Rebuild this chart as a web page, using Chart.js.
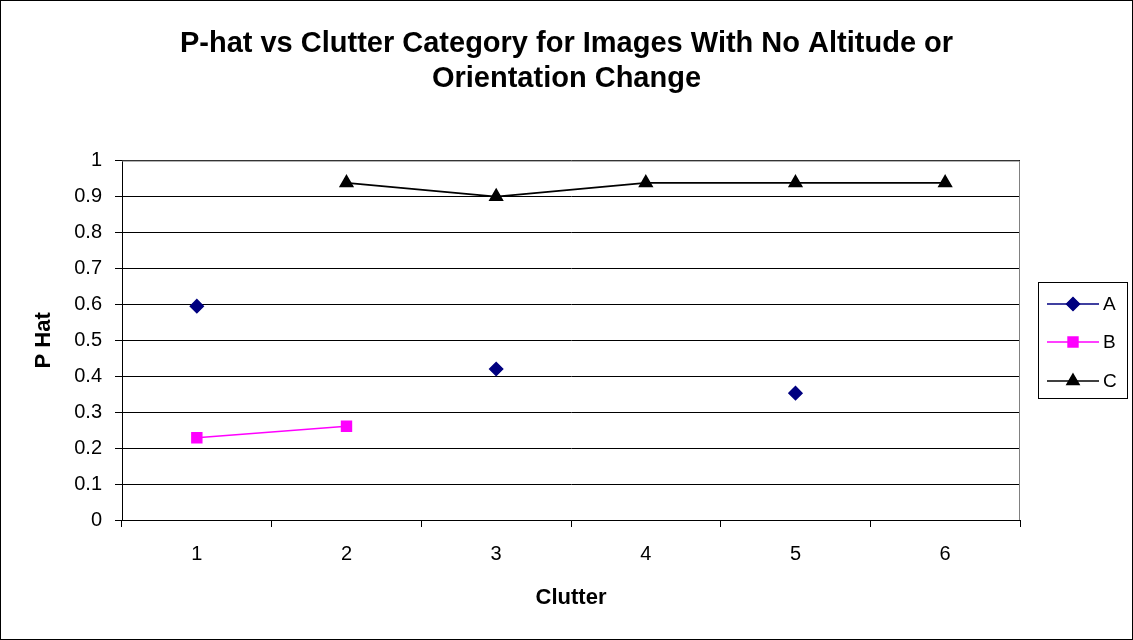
<!DOCTYPE html>
<html>
<head>
<meta charset="utf-8">
<script src="https://cdn.jsdelivr.net/npm/chart.js@4.4.1/dist/chart.umd.min.js"></script>
<style>
  html, body { margin: 0; padding: 0; background: #fff; }
  #wrap { width: 1133px; height: 640px; position: relative; }
</style>
</head>
<body>
<div id="wrap"><canvas id="chart" width="1133" height="640"></canvas></div>
<script>
const clutter = ['1', '2', '3', '4', '5', '6'];
const serieA = [0.595, null, 0.42, null, 0.353, null];
const serieB = [0.229, 0.261, null, null, null, null];
const serieC = [null, 0.938, 0.9, 0.938, 0.938, 0.938];
const yTicks = [0, 0.1, 0.2, 0.3, 0.4, 0.5, 0.6, 0.7, 0.8, 0.9, 1];

const fonte = 'Arial, "Liberation Sans", sans-serif';

// borda cinza da area do grafico + moldura externa
const moldura = {
  id: 'moldura',
  beforeDatasetsDraw(chart) {
    const { ctx, chartArea: a } = chart;
    ctx.save();
    ctx.strokeStyle = '#808080';
    ctx.lineWidth = 1;
    ctx.beginPath();
    ctx.moveTo(a.left, a.top + 0.5);
    ctx.lineTo(a.right - 0.5, a.top + 0.5);
    ctx.lineTo(a.right - 0.5, a.bottom);
    ctx.stroke();
    ctx.restore();
  },
  afterDraw(chart) {
    const ctx = chart.ctx;
    ctx.save();
    ctx.strokeStyle = '#000';
    ctx.lineWidth = 1;
    ctx.strokeRect(0.5, 0.5, chart.width - 1, chart.height - 1);
    ctx.restore();
  }
};

// legenda no estilo do excel (linha + marcador)
const legendaBox = {
  id: 'legendaBox',
  afterDraw(chart) {
    const ctx = chart.ctx;
    const x = 1038, y = 282, w = 89, h = 116;
    ctx.save();
    ctx.strokeStyle = '#000';
    ctx.lineWidth = 1;
    ctx.strokeRect(x + 0.5, y + 0.5, w, h);
    const ys = [304, 342, 381];
    chart.data.datasets.forEach((ds, i) => {
      const yy = ys[i];
      ctx.strokeStyle = ds.borderColor;
      ctx.lineWidth = 1.5;
      ctx.beginPath();
      ctx.moveTo(1047, yy);
      ctx.lineTo(1099, yy);
      ctx.stroke();
      Chart.helpers.drawPoint(ctx, {
        pointStyle: ds.pointStyle,
        radius: ds.pointRadius,
        borderWidth: 1
      }, 1073, yy);
      ctx.fillStyle = ds.pointBackgroundColor;
      ctx.fill();
      ctx.fillStyle = '#000';
      ctx.font = '19px ' + fonte;
      ctx.textBaseline = 'middle';
      ctx.fillText(ds.label, 1103, yy + 1);
    });
    ctx.restore();
  }
};

const ctx = document.getElementById('chart');

let grafico = new Chart(ctx, {
  type: 'line',
  data: {
    labels: clutter,
    datasets: [
      {
        label: 'A',
        data: serieA,
        borderColor: '#000080',
        backgroundColor: '#000080',
        pointBackgroundColor: '#000080',
        pointBorderColor: '#000080',
        pointStyle: 'rectRot',
        pointRadius: 6.5,
        borderWidth: 1.5
      },
      {
        label: 'B',
        data: serieB,
        borderColor: '#ff00ff',
        backgroundColor: '#ff00ff',
        pointBackgroundColor: '#ff00ff',
        pointBorderColor: '#ff00ff',
        pointStyle: 'rect',
        pointRadius: 7,
        borderWidth: 1.5
      },
      {
        label: 'C',
        data: serieC,
        borderColor: '#000000',
        backgroundColor: '#000000',
        pointBackgroundColor: '#000000',
        pointBorderColor: '#000000',
        pointStyle: 'triangle',
        pointRadius: 7,
        borderWidth: 1.8
      }
    ]
  },
  options: {
    responsive: false,
    animation: false,
    spanGaps: false,
    layout: { padding: 0 },
    plugins: {
      legend: { display: false },
      tooltip: { enabled: false },
      title: {
        display: true,
        text: ['P-hat vs Clutter Category for Images With No Altitude or', 'Orientation Change'],
        color: '#000',
        font: { family: fonte, size: 29, weight: 'bold', lineHeight: 1.2 },
        padding: { top: 27, bottom: 64 }
      }
    },
    scales: {
      x: {
        offset: true,
        grid: {
          offset: true,
          drawOnChartArea: false,
          drawTicks: true,
          tickLength: 7,
          color: '#000'
        },
        border: { color: '#000', width: 1 },
        ticks: { color: '#000', padding: 15, font: { family: fonte, size: 20 } },
        title: {
          display: true,
          text: 'Clutter',
          color: '#000',
          font: { family: fonte, size: 22, weight: 'bold' },
          padding: { top: 0, bottom: 29 }
        },
        afterFit(scale) { scale.height = 120; }
      },
      y: {
        min: 0,
        max: 1,
        afterBuildTicks(scale) { scale.ticks = yTicks.map(v => ({ value: v })); },
        grid: { color: '#000', tickLength: 7, lineWidth: 1 },
        border: { color: '#000', width: 1 },
        ticks: {
          color: '#000',
          padding: 13,
          font: { family: fonte, size: 20 },
          callback: v => String(v)
        },
        title: {
          display: true,
          text: 'P Hat',
          color: '#000',
          font: { family: fonte, size: 22, weight: 'bold' },
          padding: { top: 31, bottom: 0 }
        },
        afterFit(scale) { scale.width = 122; }
      },
      // espaco reservado para a legenda a direita
      espaco: {
        type: 'linear',
        position: 'right',
        display: true,
        grid: { display: false, drawTicks: false },
        border: { display: false },
        ticks: { display: false },
        afterFit(scale) { scale.width = 113; }
      }
    }
  },
  plugins: [moldura, legendaBox]
});
</script>
</body>
</html>
